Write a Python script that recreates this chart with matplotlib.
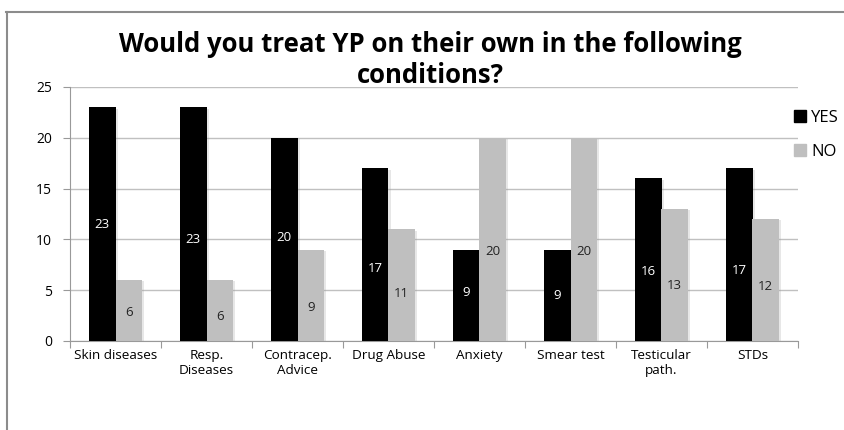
import matplotlib
matplotlib.use("Agg")
import matplotlib.pyplot as plt
import matplotlib.patheffects as pe
from matplotlib.lines import Line2D
import numpy as np

categories = ["Skin diseases", "Resp.\nDiseases", "Contracep.\nAdvice", "Drug Abuse",
              "Anxiety", "Smear test", "Testicular\npath.", "STDs"]
yes_values = [23, 23, 20, 17, 9, 9, 16, 17]
no_values = [6, 6, 9, 11, 20, 20, 13, 12]
y_ticks = [0, 5, 10, 15, 20, 25]

# heights at which the value labels sit inside the bars
yes_label_y = [11.5, 10.0, 10.2, 7.1, 4.8, 4.5, 6.8, 6.9]
no_label_y = [2.8, 2.4, 3.3, 4.7, 8.8, 8.8, 5.5, 5.4]

FONT = "Open Sans"

fig = plt.figure(figsize=(8.45, 4.3), dpi=100)
ax = fig.add_axes([70 / 845, (430 - 341) / 430, (798 - 70) / 845, (341 - 87) / 430])

x = np.arange(len(categories))
w = 0.29
shadow = [pe.SimplePatchShadow(offset=(1.5, -1), shadow_rgbFace="#a0a0a0", alpha=0.25), pe.Normal()]
b_yes = ax.bar(x - w / 2, yes_values, width=w, color="#000000", zorder=3, label="YES")
b_no = ax.bar(x + w / 2, no_values, width=w, color="#bfbfbf", zorder=3, label="NO")
for b in list(b_yes) + list(b_no):
    b.set_path_effects(shadow)

for xi, v, ly in zip(x, yes_values, yes_label_y):
    ax.text(xi - w / 2, ly, str(v), ha="center", va="center", color="white",
            fontsize=9.5, family=FONT, zorder=4)
for xi, v, ly in zip(x, no_values, no_label_y):
    ax.text(xi + w / 2, ly, str(v), ha="center", va="center", color="#222222",
            fontsize=9.5, family=FONT, zorder=4)

ax.set_xlim(-0.5, len(categories) - 0.5)
ax.set_ylim(0, 25)
ax.set_yticks(y_ticks)
ax.set_yticklabels([str(t) for t in y_ticks], family=FONT, fontsize=10)
ax.yaxis.grid(True, color="#c0c0c0", linewidth=1, zorder=0)
ax.set_axisbelow(True)

# category ticks sit between groups, labels centred under each group
ax.set_xticks(np.arange(len(categories) + 1) - 0.5)
ax.set_xticklabels([])
ax.set_xticks(x, minor=True)
ax.set_xticklabels(categories, minor=True, family=FONT, fontsize=9.7, linespacing=1.2)
ax.tick_params(axis="x", which="minor", length=0, pad=6)
ax.tick_params(axis="x", which="major", length=5, color="#999999", direction="out")
ax.tick_params(axis="y", length=5, color="#999999", pad=8)

for s in ["top", "right"]:
    ax.spines[s].set_visible(False)
for s in ["left", "bottom"]:
    ax.spines[s].set_color("#999999")

leg_handles = [
    Line2D([], [], marker="s", linestyle="none", markersize=8, color="#000000"),
    Line2D([], [], marker="s", linestyle="none", markersize=8, color="#bfbfbf"),
]
fig.legend(leg_handles, ["YES", "NO"], loc="upper left", bbox_to_anchor=(778 / 845, 1 - 95 / 430),
           frameon=False, prop={"family": FONT, "size": 12}, handlelength=0.8,
           handletextpad=0.3, labelspacing=1.1)

fig.text(430 / 845, 1 - 60 / 430, "Would you treat YP on their own in the following\nconditions?",
         ha="center", va="center", fontsize=18.5, fontweight="bold", family=FONT, linespacing=1.2)

# outer chart frame (left and top edges)
fig.add_artist(Line2D([7.5 / 845, 7.5 / 845], [0, 1 - 11.5 / 430], color="#8c8c8c", linewidth=1.5))
fig.add_artist(Line2D([6 / 845, 1], [1 - 11.5 / 430, 1 - 11.5 / 430], color="#8c8c8c", linewidth=1.5))

fig.savefig("out.png", dpi=100)
